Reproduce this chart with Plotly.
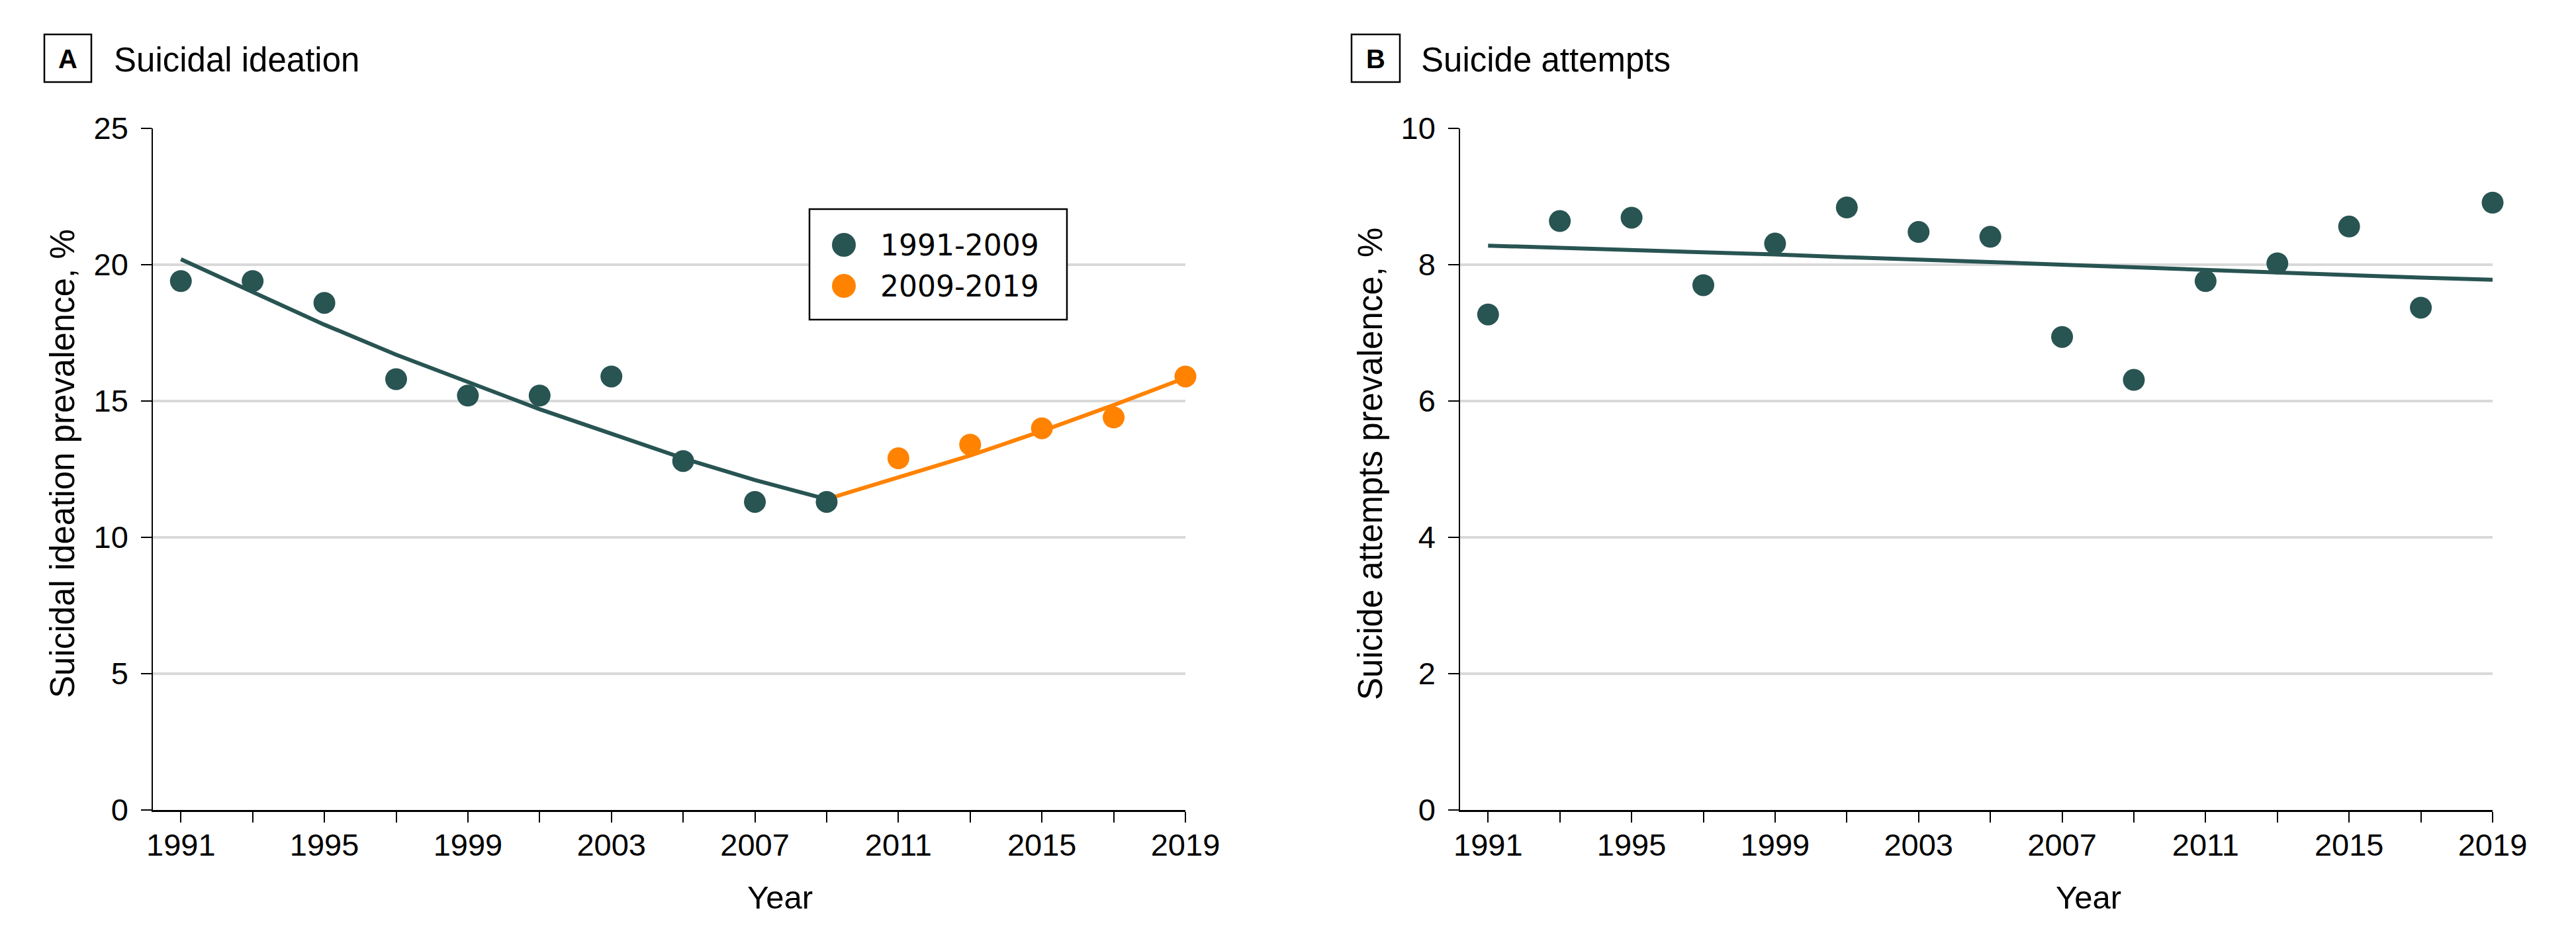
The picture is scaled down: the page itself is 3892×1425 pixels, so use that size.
import plotly.graph_objects as go

# ---------------- data ----------------
years = [1991, 1993, 1995, 1997, 1999, 2001, 2003, 2005, 2007, 2009,
         2011, 2013, 2015, 2017, 2019]
x_tick_labels = ["1991", "", "1995", "", "1999", "", "2003", "", "2007", "",
                 "2011", "", "2015", "", "2019"]

# Panel A: suicidal ideation
ideation_early_years = [1991, 1993, 1995, 1997, 1999, 2001, 2003, 2005, 2007, 2009]
ideation_early = [19.4, 19.4, 18.6, 15.8, 15.2, 15.2, 15.9, 12.8, 11.3, 11.3]
ideation_late_years = [2011, 2013, 2015, 2017, 2019]
ideation_late = [12.9, 13.4, 14.0, 14.4, 15.9]
ideation_trend_early = [20.2, 19.0, 17.8, 16.7, 15.7, 14.7, 13.8, 12.9, 12.1, 11.4]
ideation_trend_late_years = [2009, 2011, 2013, 2015, 2017, 2019]
ideation_trend_late = [11.4, 12.2, 13.0, 13.9, 14.85, 15.85]
ideation_yticks = [0, 5, 10, 15, 20, 25]

# Panel B: suicide attempts
attempts = [7.27, 8.64, 8.69, 7.70, 8.31, 8.84, 8.48, 8.41, 6.94, 6.31,
            7.76, 8.02, 8.56, 7.37, 8.91]
attempts_trend = [8.28, 8.25, 8.21, 8.18, 8.15, 8.11, 8.08, 8.04, 8.00, 7.96,
                  7.93, 7.89, 7.85, 7.81, 7.78]
attempts_yticks = [0, 2, 4, 6, 8, 10]

legend_labels = ["1991-2009", "2009-2019"]

# ---------------- styling ----------------
PAGE_OFF = 8                      # default body margin of the html page
W, H = 3892 - PAGE_OFF, 1425 - PAGE_OFF
TEAL = "#285452"
ORANGE = "#ff8200"
GRID = "#d9d9d9"
FONT = "Liberation Sans, Arial, sans-serif"
LEG_FONT = "DejaVu Sans, sans-serif"


def px(x):
    return (x - PAGE_OFF) / W


def py(y):
    return 1 - (y - PAGE_OFF) / H


fig = go.Figure()

# Panel A traces
fig.add_trace(go.Scatter(x=ideation_early_years, y=ideation_trend_early, mode="lines",
                         line=dict(color=TEAL, width=6), xaxis="x", yaxis="y",
                         showlegend=False, cliponaxis=False))
fig.add_trace(go.Scatter(x=ideation_trend_late_years, y=ideation_trend_late, mode="lines",
                         line=dict(color=ORANGE, width=6), xaxis="x", yaxis="y",
                         showlegend=False, cliponaxis=False))
fig.add_trace(go.Scatter(x=ideation_late_years, y=ideation_late, mode="markers",
                         marker=dict(color=ORANGE, size=33, line=dict(width=0)),
                         xaxis="x", yaxis="y", name=legend_labels[1],
                         showlegend=False, cliponaxis=False))
fig.add_trace(go.Scatter(x=ideation_early_years, y=ideation_early, mode="markers",
                         marker=dict(color=TEAL, size=33, line=dict(width=0)),
                         xaxis="x", yaxis="y", name=legend_labels[0],
                         showlegend=False, cliponaxis=False))

# Panel B traces
fig.add_trace(go.Scatter(x=years, y=attempts_trend, mode="lines",
                         line=dict(color=TEAL, width=6), xaxis="x2", yaxis="y2",
                         showlegend=False, cliponaxis=False))
fig.add_trace(go.Scatter(x=years, y=attempts, mode="markers",
                         marker=dict(color=TEAL, size=33, line=dict(width=0)),
                         xaxis="x2", yaxis="y2", showlegend=False, cliponaxis=False))

xrange = [1990.22, 2019]


def xaxis_cfg(domain, anchor):
    return dict(domain=domain, anchor=anchor, range=xrange, showgrid=False,
                zeroline=False, showline=True, linecolor="black", linewidth=2.5,
                ticks="outside", ticklen=16, tickwidth=2, tickcolor="black",
                tickmode="array", tickvals=years, ticktext=x_tick_labels,
                tickfont=dict(family=FONT, size=47, color="black"),
                ticklabelstandoff=-6, fixedrange=True, automargin=False)


def yaxis_cfg(domain, anchor, rng, tickvals):
    return dict(domain=domain, anchor=anchor, range=rng, showgrid=True,
                gridcolor=GRID, gridwidth=4, zeroline=False, showline=True,
                linecolor="black", linewidth=1.5, ticks="outside", ticklen=16,
                tickwidth=2, tickcolor="black", tickmode="array",
                tickvals=tickvals, ticktext=[str(v) for v in tickvals],
                tickfont=dict(family=FONT, size=47, color="black"),
                ticklabelstandoff=10, fixedrange=True, automargin=False)


ydom = [py(1224), py(194)]
fig.update_layout(
    template="none",
    width=W, height=H,
    margin=dict(l=0, r=0, t=0, b=0, pad=0),
    paper_bgcolor="white", plot_bgcolor="white",
    showlegend=False,
    xaxis=xaxis_cfg([px(231), px(1791)], "y"),
    yaxis=yaxis_cfg(ydom, "x", [0, 25], ideation_yticks),
    xaxis2=xaxis_cfg([px(2206), px(3766)], "y2"),
    yaxis2=yaxis_cfg(ydom, "x2", [0, 10], attempts_yticks),
)

shapes = []
annotations = []

# panel labels and titles
for (bx0, bx1, letter, title, tx) in [(67, 138, "A", "Suicidal ideation", 170),
                                       (2042, 2115, "B", "Suicide attempts", 2145)]:
    shapes.append(dict(type="rect", xref="paper", yref="paper",
                       x0=px(bx0), x1=px(bx1), y0=py(124), y1=py(52),
                       line=dict(color="black", width=2.5), fillcolor="white"))
    annotations.append(dict(text="<b>%s</b>" % letter, xref="paper", yref="paper",
                            x=px((bx0 + bx1) / 2), y=py(89), xanchor="center",
                            yanchor="middle", showarrow=False,
                            font=dict(family=FONT, size=40, color="black")))
    annotations.append(dict(text=title, xref="paper", yref="paper",
                            x=px(tx), y=py(90), xanchor="left", yanchor="middle",
                            showarrow=False,
                            font=dict(family=FONT, size=51, color="black")))

# y axis titles
for (cx, txt) in [(94, "Suicidal ideation prevalence, %"),
                  (2070, "Suicide attempts prevalence, %")]:
    annotations.append(dict(text=txt, xref="paper", yref="paper", x=px(cx), y=py(701),
                            xanchor="center", yanchor="middle", textangle=-90,
                            showarrow=False,
                            font=dict(family=FONT, size=51, color="black")))

# x axis titles
for cx in [1178, 3155]:
    annotations.append(dict(text="Year", xref="paper", yref="paper", x=px(cx), y=py(1356),
                            xanchor="center", yanchor="middle", showarrow=False,
                            font=dict(family=FONT, size=49, color="black")))

# legend (panel A)
shapes.append(dict(type="rect", xref="paper", yref="paper", x0=px(1223), x1=px(1612),
                   y0=py(483), y1=py(316), line=dict(color="black", width=2.5),
                   fillcolor="white", layer="above"))
for (cy, col, lab) in [(370, TEAL, legend_labels[0]), (432, ORANGE, legend_labels[1])]:
    shapes.append(dict(type="circle", xref="paper", yref="paper",
                       x0=px(1275 - 18), x1=px(1275 + 18), y0=py(cy + 18), y1=py(cy - 18),
                       line=dict(width=0), fillcolor=col, layer="above"))
    annotations.append(dict(text=lab, xref="paper", yref="paper", x=px(1328), y=py(cy),
                            xanchor="left", yanchor="middle", showarrow=False,
                            font=dict(family=LEG_FONT, size=44, color="black")))

fig.update_layout(shapes=shapes, annotations=annotations)

fig.write_html("out.html")
